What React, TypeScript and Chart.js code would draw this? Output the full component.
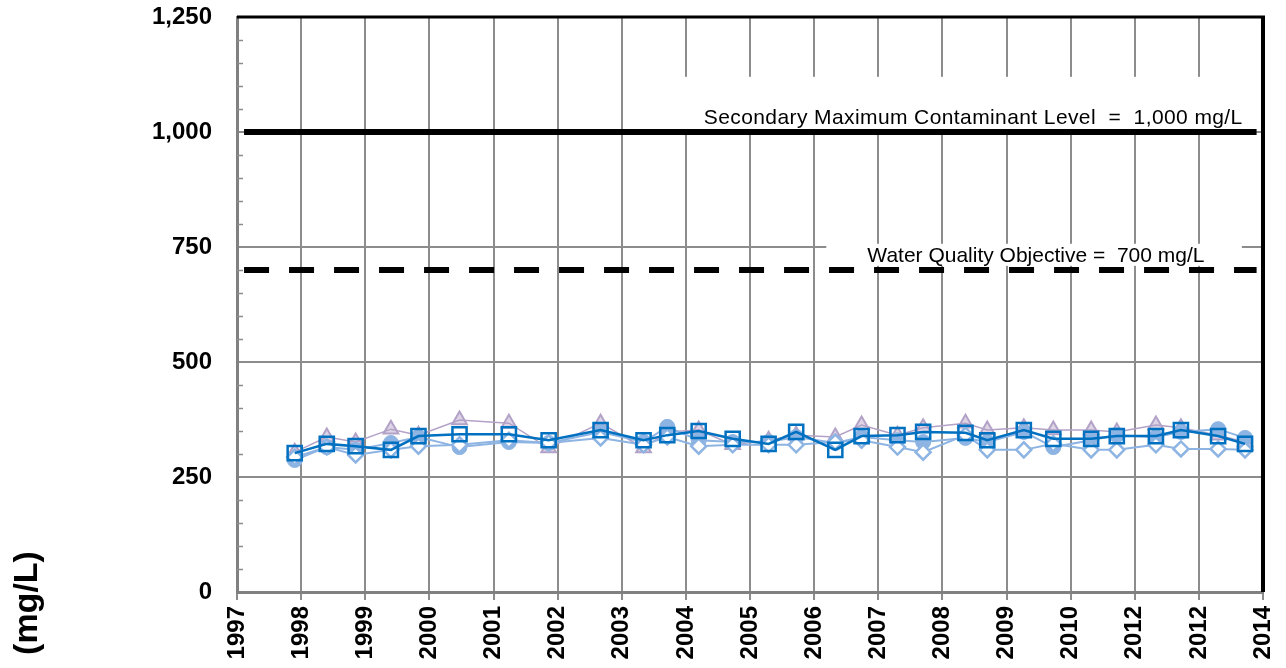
import React, { useEffect, useRef } from 'react';
import { Chart, registerables } from 'chart.js';

Chart.register(...registerables);

// Tick labels along the time axis (as printed on the original chart)
const xTickLabels = ['1997', '1998', '1999', '2000', '2001', '2002', '2003', '2004', '2005', '2006', '2007', '2008', '2009', '2010', '2012', '2012', '2014'];

// Sampling times, in axis units (0 = first tick "1997", 16 = last tick "2014")
const sampleTimes = [0.9, 1.4, 1.85, 2.4, 2.83, 3.47, 4.24, 4.86, 5.67, 6.34, 6.71, 7.2, 7.73, 8.29, 8.72, 9.33, 9.74, 10.3, 10.7, 11.36, 11.7, 12.27, 12.73, 13.32, 13.72, 14.33, 14.72, 15.3, 15.72];

// Series values (mg/L)
const squareSeries = [302, 322, 317, 309, 339, 343, 343, 330, 352, 330, 341, 350, 333, 322, 348, 309, 339, 341, 348, 346, 330, 352, 333, 333, 339, 339, 352, 339, 322];
const circleSeries = [287, 315, 309, 324, 337, 315, 326, 324, 348, 326, 359, 330, 326, 326, 337, 324, 337, 330, 326, 335, 326, 348, 315, 330, 341, 337, 348, 354, 335];
const diamondSeries = [293, 315, 298, 309, 317, 320, 330, 324, 335, 320, 337, 317, 320, 320, 320, 326, 330, 315, 304, 341, 309, 309, 322, 309, 309, 320, 311, 311, 309];
const triangleSeries = [304, 337, 326, 354, 341, 374, 367, 313, 367, 313, 348, 352, 320, 330, 341, 337, 363, 341, 357, 367, 352, 357, 352, 352, 348, 363, 357, 341, 326];

// Regulatory levels
const smclValue = 1000;
const wqoValue = 700;
const refLineSpan = [0.11, 15.9];

const smclText = 'Secondary Maximum Contaminant Level  =  1,000 mg/L';
const wqoText = 'Water Quality Objective =  700 mg/L';
const yTitle = '(mg/L)';

const FONT = '"Liberation Sans", Arial, Helvetica, sans-serif';
const GRID = '#8c8c8c';

const toPoints = (vals: number[]) => vals.map((v, i) => ({ x: sampleTimes[i], y: v }));

const zeroPad = (s: any) => {
  s.paddingTop = 0;
  s.paddingBottom = 0;
  s.paddingLeft = 0;
  s.paddingRight = 0;
};

const decorPlugin = {
  id: 'decor',
  beforeDatasetsDraw(chart: any) {
    const { ctx, chartArea } = chart;
    const xs = chart.scales.x;
    const ys = chart.scales.y;
    const { left, right, top, bottom } = chartArea;
    ctx.save();
    // minor ticks on the value axis
    ctx.strokeStyle = GRID;
    ctx.lineWidth = 1.5;
    ys.ticks.forEach((t: any) => {
      if (t.value % 250 !== 0) {
        const py = Math.round(ys.getPixelForValue(t.value)) + 0.5;
        ctx.beginPath();
        ctx.moveTo(left, py);
        ctx.lineTo(left + 6, py);
        ctx.stroke();
      }
    });
    // top and right black border
    ctx.strokeStyle = '#000';
    ctx.lineWidth = 3;
    ctx.beginPath();
    ctx.moveTo(left, top);
    ctx.lineTo(right + 2, top);
    ctx.stroke();
    ctx.lineWidth = 4;
    ctx.beginPath();
    ctx.moveTo(right, top);
    ctx.lineTo(right, bottom);
    ctx.stroke();

    // label boxes
    ctx.fillStyle = '#fff';
    const b1l = xs.getPixelForValue(6.9);
    const b1t = ys.getPixelForValue(1120);
    const b1b = ys.getPixelForValue(1006);
    ctx.fillRect(b1l, b1t, right - 3 - b1l, b1b - b1t);
    const b2l = xs.getPixelForValue(9.19);
    const b2r = xs.getPixelForValue(15.67);
    const b2t = ys.getPixelForValue(757);
    const b2b = ys.getPixelForValue(709);
    ctx.fillRect(b2l, b2t, b2r - b2l, b2b - b2t);

    ctx.fillStyle = '#000';
    ctx.font = `21px ${FONT}`;
    ctx.textAlign = 'left';
    ctx.textBaseline = 'alphabetic';
    (ctx as any).letterSpacing = '0.4px';
    ctx.fillText(smclText, xs.getPixelForValue(7.28), ys.getPixelForValue(1017));
    (ctx as any).letterSpacing = '0px';
    ctx.fillText(wqoText, xs.getPixelForValue(9.83), ys.getPixelForValue(717));
    ctx.restore();
  },
  afterDraw(chart: any) {
    const { ctx } = chart;
    ctx.save();
    ctx.translate(28, 603);
    ctx.rotate(-Math.PI / 2);
    ctx.font = `bold 34px ${FONT}`;
    ctx.fillStyle = '#000';
    ctx.textAlign = 'center';
    ctx.textBaseline = 'middle';
    ctx.fillText(yTitle, 0, 0);
    ctx.restore();
  },
};

export default function App() {
  const ref = useRef<HTMLCanvasElement | null>(null);
  useEffect(() => {
    if (!ref.current) return;
    const chart = new Chart(ref.current, {
      type: 'line',
      data: {
        datasets: [
          {
            label: 'Squares',
            data: toPoints(squareSeries),
            borderColor: '#0070C0',
            backgroundColor: 'rgba(255,255,255,0)',
            borderWidth: 2.5,
            pointStyle: 'rect',
            pointRadius: 10,
            pointBorderWidth: 2.5,
            pointBorderColor: '#0070C0',
            pointBackgroundColor: 'rgba(255,255,255,0)',
            tension: 0,
          },
          {
            label: 'Diamonds',
            data: toPoints(diamondSeries),
            borderColor: '#8DB4E2',
            borderWidth: 2,
            pointStyle: 'rectRot',
            pointRadius: 7.5,
            pointBorderWidth: 2.5,
            pointBorderColor: '#8DB4E2',
            pointBackgroundColor: '#ffffff',
            tension: 0,
          },
          {
            label: 'Circles',
            data: toPoints(circleSeries),
            borderColor: '#8DB4E2',
            borderWidth: 2,
            pointStyle: 'circle',
            pointRadius: 7.5,
            pointBorderWidth: 1,
            pointBorderColor: '#8DB4E2',
            pointBackgroundColor: '#8DB4E2',
            tension: 0,
          },
          {
            label: 'Triangles',
            data: toPoints(triangleSeries),
            borderColor: '#B3A2C7',
            borderWidth: 1.5,
            pointStyle: 'triangle',
            pointRadius: 8.5,
            pointBorderWidth: 2,
            pointBorderColor: '#B3A2C7',
            pointBackgroundColor: 'rgba(179,162,199,0.45)',
            tension: 0,
          },
          {
            label: 'SMCL',
            data: refLineSpan.map((x) => ({ x, y: smclValue })),
            borderColor: '#000',
            borderWidth: 6,
            pointRadius: 0,
            borderCapStyle: 'butt',
          },
          {
            label: 'WQO',
            data: refLineSpan.map((x) => ({ x, y: wqoValue })),
            borderColor: '#000',
            borderWidth: 6,
            borderDash: [25, 20],
            pointRadius: 0,
            borderCapStyle: 'butt',
          },
        ],
      },
      options: {
        animation: false,
        responsive: false,
        devicePixelRatio: 1,
        layout: { padding: { top: 17, right: 23, bottom: 0, left: 0 } },
        plugins: { legend: { display: false }, tooltip: { enabled: false } },
        scales: {
          x: {
            type: 'linear',
            min: 0,
            max: xTickLabels.length - 1,
            afterFit: (s: any) => { s.height = 76; zeroPad(s); },
            ticks: {
              stepSize: 1,
              autoSkip: false,
              maxRotation: 90,
              minRotation: 90,
              padding: 6,
              color: '#000',
              font: { family: FONT, size: 24, weight: 'bold' },
              callback: (v: any) => xTickLabels[Math.round(Number(v))] ?? '',
            },
            grid: { color: GRID, lineWidth: 2, tickLength: 8, tickColor: GRID, drawTicks: true },
            border: { color: '#808080', width: 3 },
          },
          y: {
            type: 'linear',
            min: 0,
            max: 1250,
            afterFit: (s: any) => { s.width = 237; zeroPad(s); },
            ticks: {
              stepSize: 50,
              autoSkip: false,
              padding: 25,
              color: '#000',
              font: { family: FONT, size: 24, weight: 'bold' },
              callback: (v: any) => (Number(v) % 250 === 0 ? Number(v).toLocaleString('en-US') : ''),
            },
            grid: {
              color: (c: any) => (c.tick && c.tick.value % 250 === 0 ? GRID : 'rgba(0,0,0,0)'),
              lineWidth: 2,
              drawTicks: false,
            },
            border: { color: '#808080', width: 3 },
          },
        },
      },
      plugins: [decorPlugin],
    } as any);
    return () => chart.destroy();
  }, []);
  return (
    <div style={{ position: 'absolute', left: 0, top: 0, width: 1286, height: 668, background: '#fff' }}>
      <canvas ref={ref} width={1286} height={668} style={{ display: 'block' }} />
    </div>
  );
}
